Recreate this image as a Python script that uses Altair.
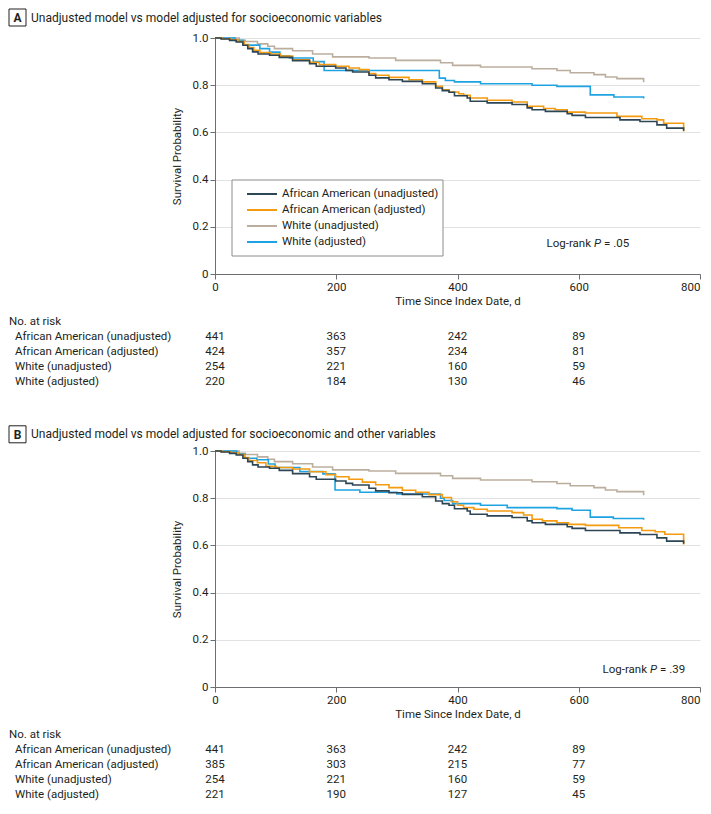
import altair as alt
import pandas as pd

FONT = "Roboto"
TXT = "#231f20"
AXC = "#6d6e71"
FS = 11.5

groups = ["African American (unadjusted)", "African American (adjusted)",
          "White (unadjusted)", "White (adjusted)"]
colors = ["#2c4656", "#f59b11", "#bcae9e", "#1ea3e2"]

# ---- survival curves (Kaplan-Meier steps) ----
# unadjusted curves are identical in both panels
aa_unadj_t = [0, 10, 24, 35, 46, 54, 62, 71, 90, 106, 128, 156, 167, 199, 216, 227, 254, 265, 287, 309,
              342, 364, 375, 386, 395, 416, 421, 449, 490, 515, 523, 545, 581, 589, 611, 668, 701, 729, 745, 773]
aa_unadj_s = [1.0, 0.996, 0.99, 0.983, 0.969, 0.955, 0.941, 0.932, 0.927, 0.918, 0.904, 0.891, 0.88, 0.873,
              0.863, 0.856, 0.842, 0.831, 0.823, 0.816, 0.806, 0.788, 0.777, 0.77, 0.755, 0.746, 0.732, 0.725,
              0.718, 0.704, 0.696, 0.689, 0.679, 0.672, 0.663, 0.653, 0.646, 0.632, 0.618, 0.607]

w_unadj_t = [0, 40, 50, 70, 87, 98, 128, 161, 194, 254, 298, 372, 392, 438, 523, 564, 586, 625, 644, 663, 707]
w_unadj_s = [1.0, 0.99, 0.985, 0.975, 0.965, 0.955, 0.946, 0.932, 0.92, 0.915, 0.905, 0.895, 0.884, 0.877,
             0.87, 0.862, 0.853, 0.845, 0.835, 0.828, 0.812]

# panel A adjusted (socioeconomic)
aa_adjA_t = [0, 12, 26, 38, 48, 56, 64, 74, 92, 108, 128, 156, 172, 199, 221, 238, 254, 265, 287, 320,
             342, 364, 375, 386, 402, 410, 421, 449, 490, 515, 542, 561, 581, 611, 663, 704, 729, 740, 773]
aa_adjA_s = [1.0, 0.997, 0.992, 0.985, 0.972, 0.96, 0.948, 0.938, 0.932, 0.923, 0.908, 0.897, 0.887, 0.88,
             0.873, 0.866, 0.849, 0.842, 0.833, 0.823, 0.814, 0.795, 0.781, 0.771, 0.764, 0.757, 0.746, 0.736,
             0.729, 0.711, 0.701, 0.696, 0.686, 0.682, 0.668, 0.658, 0.653, 0.639, 0.604]
w_adjA_t = [0, 33, 47, 74, 90, 107, 123, 162, 180, 370, 380, 395, 438, 523, 564, 619, 658, 707]
w_adjA_s = [1.0, 0.99, 0.97, 0.955, 0.94, 0.925, 0.915, 0.9, 0.862, 0.83, 0.82, 0.814, 0.806, 0.8, 0.795,
            0.759, 0.75, 0.744]

# panel B adjusted (socioeconomic and other)
aa_adjB_t = [0, 12, 26, 38, 48, 56, 70, 84, 101, 128, 156, 183, 199, 221, 243, 265, 287, 309, 331, 353,
             375, 390, 400, 410, 427, 449, 490, 509, 523, 540, 564, 583, 611, 666, 704, 726, 742, 773]
aa_adjB_s = [1.0, 0.997, 0.992, 0.985, 0.972, 0.96, 0.95, 0.935, 0.93, 0.924, 0.912, 0.9, 0.891, 0.88,
             0.868, 0.857, 0.845, 0.834, 0.825, 0.815, 0.803, 0.785, 0.77, 0.76, 0.753, 0.746, 0.739, 0.729,
             0.711, 0.704, 0.696, 0.689, 0.685, 0.675, 0.663, 0.658, 0.647, 0.604]
w_adjB_t = [0, 36, 49, 69, 88, 99, 140, 178, 198, 239, 300, 372, 378, 392, 438, 482, 564, 589, 619, 657, 707]
w_adjB_s = [1.0, 0.987, 0.969, 0.963, 0.945, 0.93, 0.913, 0.903, 0.835, 0.825, 0.818, 0.8, 0.79, 0.777,
            0.77, 0.76, 0.756, 0.749, 0.72, 0.714, 0.709]

# ---- numbers at risk ----
risk_days = [0, 200, 400, 600]
riskA_aa_unadj = [441, 363, 242, 89]
riskA_aa_adj = [424, 357, 234, 81]
riskA_w_unadj = [254, 221, 160, 59]
riskA_w_adj = [220, 184, 130, 46]
riskB_aa_unadj = [441, 363, 242, 89]
riskB_aa_adj = [385, 303, 215, 77]
riskB_w_unadj = [254, 221, 160, 59]
riskB_w_adj = [221, 190, 127, 45]

W, H = 485, 236
LEFT = -206


def curve_df(series):
    rows = []
    for g, ts, ss in series:
        for t, s in zip(ts, ss):
            rows.append({"group": g, "day": t, "surv": s})
    return pd.DataFrame(rows)


def risk_df(risk):
    rows = []
    for g, ns in zip(groups, risk):
        for d, n in zip(risk_days, ns):
            rows.append({"group": g, "day": d, "n": n})
    return pd.DataFrame(rows)


def one(text):
    return pd.DataFrame({"t": [text]})


def panel(letter, heading, series, risk, pval, show_legend, head_y, pv_x, pv_y):
    x_enc = alt.X("day:Q", scale=alt.Scale(domain=[0, 800], nice=False),
                  axis=alt.Axis(values=[0, 200, 400, 600, 800], title="Time Since Index Date, d",
                                grid=False, tickSize=5, labelPadding=2, titlePadding=3,
                                labelFlush=False,
                                labelAlign={"condition": {"test": "datum.value >= 800", "value": "right"},
                                            "value": "center"}))
    y_enc = alt.Y("surv:Q", scale=alt.Scale(domain=[0, 1], nice=False),
                  axis=alt.Axis(values=[0, 0.2, 0.4, 0.6, 0.8, 1.0],
                                labelExpr="datum.value == 0 ? '0' : format(datum.value, '.1f')",
                                title="Survival Probability", grid=True, tickSize=5,
                                labelPadding=2, titlePadding=10))
    col = alt.Color("group:N", scale=alt.Scale(domain=groups, range=colors), legend=None)
    lines = alt.Chart(curve_df(series)).mark_line(interpolate="step-after", strokeWidth=1.6).encode(
        x=x_enc, y=y_enc, color=col)

    layers = [lines]

    if show_legend:
        leg_y = alt.Y("group:N", scale=alt.Scale(type="point", domain=groups, range=[156, 204], padding=0),
                      axis=None)
        leg_df = pd.DataFrame({"group": groups})
        frame = alt.Chart(one("legend")).mark_rect(fill="white", stroke="#8c8c8c", strokeWidth=1).encode(
            x=alt.value(17), x2=alt.value(228), y=alt.value(142), y2=alt.value(218))
        keys = alt.Chart(leg_df).mark_rule(strokeWidth=2).encode(
            x=alt.value(32), x2=alt.value(62), y=leg_y, color=col)
        klab = alt.Chart(leg_df).mark_text(align="left", baseline="middle", fontSize=FS, color=TXT).encode(
            x=alt.value(67), y=leg_y, text="group:N")
        layers += [frame, keys, klab]

    row_y = alt.Y("group:N", scale=alt.Scale(type="point", domain=groups, range=[H + 63, H + 108], padding=0),
                  axis=None)
    nums = alt.Chart(risk_df(risk)).mark_text(align="center", baseline="middle", fontSize=FS,
                                              color=TXT).encode(x=x_enc, y=row_y, text="n:Q")
    labels = alt.Chart(pd.DataFrame({"group": groups})).mark_text(
        align="left", baseline="middle", fontSize=FS, color=TXT).encode(
        x=alt.value(LEFT + 6), y=row_y, text="group:N")
    header = alt.Chart(one("No. at risk")).mark_text(
        align="left", baseline="middle", fontSize=FS, color=TXT).encode(
        x=alt.value(LEFT), y=alt.value(H + 48), text="t:N")

    box = alt.Chart(one(letter)).mark_rect(fill="white", stroke=TXT, strokeWidth=1).encode(
        x=alt.value(LEFT), x2=alt.value(LEFT + 17), y=alt.value(head_y - 8.5), y2=alt.value(head_y + 8.5))
    let = alt.Chart(one(letter)).mark_text(
        align="center", baseline="middle", fontSize=12, fontWeight="bold", color=TXT).encode(
        x=alt.value(LEFT + 8.5), y=alt.value(head_y + 0.5), text="t:N")
    head = alt.Chart(one(heading)).mark_text(
        align="left", baseline="middle", fontSize=12, color=TXT).encode(
        x=alt.value(LEFT + 22), y=alt.value(head_y), text="t:N")

    pv1 = alt.Chart(one("Log-rank")).mark_text(
        align="right", baseline="middle", fontSize=FS, color=TXT).encode(
        x=alt.value(pv_x), y=alt.value(pv_y), text="t:N")
    pv2 = alt.Chart(one("P")).mark_text(
        align="left", baseline="middle", fontSize=FS, fontStyle="italic", color=TXT).encode(
        x=alt.value(pv_x + 3), y=alt.value(pv_y), text="t:N")
    pv3 = alt.Chart(one("= " + pval)).mark_text(
        align="left", baseline="middle", fontSize=FS, color=TXT).encode(
        x=alt.value(pv_x + 13), y=alt.value(pv_y), text="t:N")

    layers += [nums, labels, header, box, let, head, pv1, pv2, pv3]
    return alt.layer(*layers).resolve_scale(y="independent").properties(width=W, height=H)


seriesA = [("White (unadjusted)", w_unadj_t, w_unadj_s), ("White (adjusted)", w_adjA_t, w_adjA_s),
           ("African American (adjusted)", aa_adjA_t, aa_adjA_s),
           ("African American (unadjusted)", aa_unadj_t, aa_unadj_s)]
seriesB = [("White (unadjusted)", w_unadj_t, w_unadj_s), ("White (adjusted)", w_adjB_t, w_adjB_s),
           ("African American (adjusted)", aa_adjB_t, aa_adjB_s),
           ("African American (unadjusted)", aa_unadj_t, aa_unadj_s)]

pA = panel("A", "Unadjusted model vs model adjusted for socioeconomic variables", seriesA,
           [riskA_aa_unadj, riskA_aa_adj, riskA_w_unadj, riskA_w_adj], ".05", True, -20.5, 376, 206)
pB = panel("B", "Unadjusted model vs model adjusted for socioeconomic and other variables", seriesB,
           [riskB_aa_unadj, riskB_aa_adj, riskB_w_unadj, riskB_w_adj], ".39", False, -16.7, 432, 219)

chart = alt.vconcat(pA, pB, spacing=37).resolve_scale(color="independent").properties(
    padding={"left": 0, "top": 0, "right": 0, "bottom": 0}).configure(font=FONT).configure_view(
    stroke=None).configure_axis(
    domainColor=AXC, tickColor=AXC, gridColor="#e2e2e2", labelFont=FONT, labelFontSize=FS,
    labelColor=TXT, titleFont=FONT, titleFontSize=FS, titleFontWeight="normal", titleColor=TXT)

chart.save("out.html", embed_options={"renderer": "svg", "actions": False})
